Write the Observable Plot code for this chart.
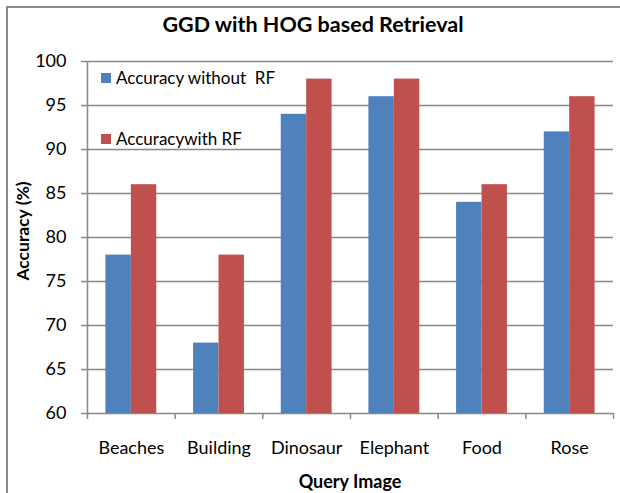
<!DOCTYPE html>
<html>
<head>
<meta charset="utf-8">
<script src="https://cdn.jsdelivr.net/npm/d3@7"></script>
<script src="https://cdn.jsdelivr.net/npm/@observablehq/plot@0.6"></script>
<style>
  html, body { margin: 0; padding: 0; background: #fff; }
  #wrap { position: relative; width: 620px; height: 493px; font-family: Lato, "Open Sans", sans-serif; overflow: hidden; }
  #wrap svg { position: absolute; left: 0; top: 0; }
  .border { position: absolute; left: 6px; top: 6px; width: 700px; height: 600px; border-left: 2px solid #8a8a8a; border-top: 2px solid #8a8a8a; }
  .title { position: absolute; left: 0; width: 626px; top: 11px; text-align: center; font-weight: bold; font-size: 21.5px; color: #000; }
  .ylab { position: absolute; left: 22px; top: 231px; transform: translate(-50%, -50%) rotate(-90deg); font-weight: bold; font-size: 17.5px; white-space: nowrap; }
  .xlab { position: absolute; left: 87px; width: 526px; top: 470px; text-align: center; font-weight: bold; font-size: 18px; }
  .leg { position: absolute; left: 101px; font-size: 17px; white-space: pre; line-height: 20px; }
  .leg span.sw { display: inline-block; width: 10px; height: 10px; margin-right: 5px; vertical-align: 1px; }
</style>
</head>
<body>
<div id="wrap"></div>
<script>
const categories = ["Beaches", "Building", "Dinosaur", "Elephant", "Food", "Rose"];
const seriesNames = ["Accuracy without  RF", "Accuracywith RF"];
const withoutRF = [78, 68, 94, 96, 84, 92];
const withRF = [86, 78, 98, 98, 86, 96];
const yTicks = [60, 65, 70, 75, 80, 85, 90, 95, 100];
const colors = ["#4F81BD", "#C0504D"];

const rows = [];
categories.forEach((c, i) => {
  rows.push({i, series: 0, value: withoutRF[i]});
  rows.push({i, series: 1, value: withRF[i]});
});
const half = 0.29;
const boundaries = d3.range(categories.length + 1).map(k => k - 0.5);

const chart = Plot.plot({
  width: 620,
  height: 493,
  marginLeft: 87,
  marginRight: 7,
  marginTop: 61,
  marginBottom: 80,
  style: {fontFamily: "Lato, 'Open Sans', sans-serif", fontSize: "18px", color: "#000", background: "transparent"},
  x: {domain: [-0.5, categories.length - 0.5]},
  y: {domain: [60, 100]},
  marks: [
    Plot.ruleY(yTicks, {stroke: "#888", strokeWidth: 1.5, strokeOpacity: 1}),
    Plot.rectY(rows, {
      x1: d => d.series === 0 ? d.i - half : d.i,
      x2: d => d.series === 0 ? d.i : d.i + half,
      y1: 60,
      y2: "value",
      fill: d => colors[d.series]
    }),
    Plot.ruleX([-0.5], {stroke: "#888", strokeWidth: 1.5}),
    Plot.axisY({ticks: yTicks, tickSize: 6, tickPadding: 15, stroke: "#888", strokeOpacity: 1, strokeWidth: 1.5, label: null, fontSize: 18, fill: "#000"}),
    Plot.axisX({ticks: boundaries, tickSize: 6, tickFormat: () => "", stroke: "#888", strokeOpacity: 1, strokeWidth: 1.5, label: null}),
    Plot.axisX({ticks: d3.range(categories.length), tickSize: 0, tickPadding: 28, tickFormat: i => categories[i], label: null, fontSize: 18, fill: "#000"})
  ]
});

const wrap = document.getElementById("wrap");
wrap.appendChild(chart);
wrap.insertAdjacentHTML("beforeend", `
  <div class="border"></div>
  <div class="title">GGD with HOG based Retrieval</div>
  <div class="ylab">Accuracy (%)</div>
  <div class="xlab">Query Image</div>
  <div class="leg" style="top:68px"><span class="sw" style="background:${colors[0]}"></span>${seriesNames[0]}</div>
  <div class="leg" style="top:129px"><span class="sw" style="background:${colors[1]}"></span>${seriesNames[1]}</div>
`);
</script>
</body>
</html>
